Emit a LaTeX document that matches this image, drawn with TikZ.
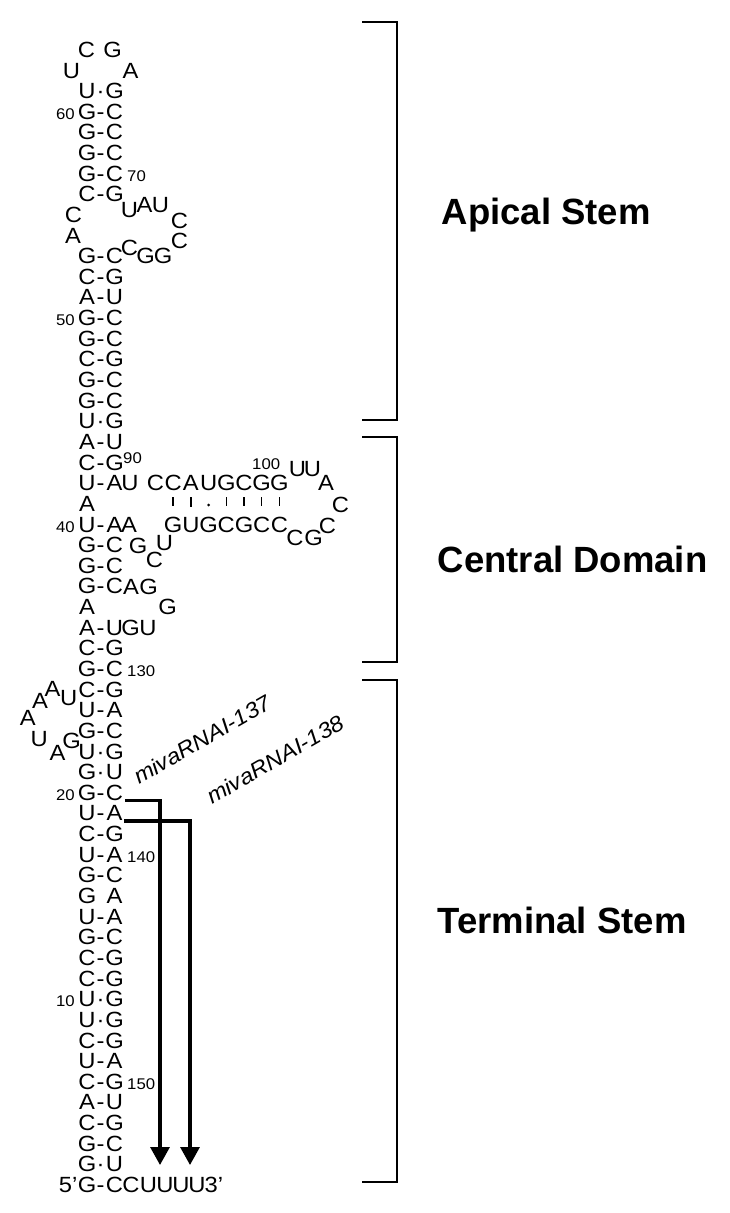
\documentclass[tikz,border=0pt]{standalone}
\usepackage{fontspec}
\setmainfont{Liberation Sans}
\newfontfamily\basefam{Liberation Sans}[FakeStretch=1.08]
\usetikzlibrary{arrows.meta}

\tikzset{
    nt/.style={font=\basefam\fontsize{22}{22}\selectfont, inner sep=0pt, anchor=base},
    num/.style={font=\basefam\fontsize{15.5}{15.5}\selectfont, inner sep=0pt},
    domainlbl/.style={font=\bfseries\fontsize{36.5}{36.5}\selectfont, inner sep=0pt, anchor=base west},
    mir/.style={font=\basefam\itshape\fontsize{22}{22}\selectfont, inner sep=0pt, anchor=base west, rotate=30},
    brk/.style={line width=1.8pt},
    pairbar/.style={line width=1.5pt},
    cut/.style={line width=3.2pt, -{Triangle[width=19pt,length=18pt]}}
}

\begin{document}
\begin{tikzpicture}[x=1pt, y=-1pt]
    \useasboundingbox (0,0) rectangle (729,1213);

% The stem: one row of paired bases every 20.64 units, numbered from the top loop down to the 5' end.

    \foreach \r/\a/\s/\b in {2/U/·/G, 3/G/-/C, 4/G/-/C, 5/G/-/C, 6/G/-/C, 7/C/-/G, 10/G/-/C, 11/C/-/G, 12/A/-/U, 13/G/-/C, 14/G/-/C, 15/C/-/G, 16/G/-/C, 17/G/-/C, 18/U/·/G, 19/A/-/U, 20/C/-/G, 21/U/-/A, 23/U/-/A, 24/G/-/C, 25/G/-/C, 26/G/-/C, 28/A/-/U, 29/C/-/G, 30/G/-/C, 31/C/-/G, 32/U/-/A, 33/G/-/C, 34/U/·/G, 35/G/·/U, 36/G/-/C, 37/U/-/A, 38/C/-/G, 39/U/-/A, 40/G/-/C, 41/G/{}/A, 42/U/-/A, 43/G/-/C, 44/C/-/G, 45/C/-/G, 46/U/·/G, 47/U/·/G, 48/C/-/G, 49/U/-/A, 50/C/-/G, 51/A/-/U, 52/C/-/G, 53/G/-/C, 54/G/·/U, 55/G/-/C} {
        \node[nt] (l\r) at (87,{57.3+20.64*\r}) {\a};
        \node[nt] (b\r) at (100.5,{57.3+20.64*\r}) {\s};
        \node[nt] (r\r) at (114.5,{57.3+20.64*\r}) {\b};
    }
    \node[nt] (l22) at (87,{57.3+20.64*22}) {A};
    \node[nt] (l27) at (87,{57.3+20.64*27}) {A};

    % numbers
    \foreach \n/\r in {60/3, 50/13, 40/23, 20/36, 10/46}
        \node[num, anchor=base east] (n\n) at (75,{57.3+20.64*\r}) {\n};
    \foreach \n/\r in {70/6, 130/30, 140/39, 150/50}
        \node[num, anchor=base west] (n\n) at (127,{57.3+20.64*\r}) {\n};
    \node[num, anchor=base west] (n90) at (123,463) {90};
    \node[num, anchor=base west] (n100) at (252,469) {100};

    % apical stem loops
    \foreach \x/\y/\t [count=\i] in {71.5/78/U, 86.5/57.3/C, 112.5/57.3/G, 130.5/78/A}
        \node[nt] (tl\i) at (\x,\y) {\t};
    \foreach \x/\y/\t [count=\i] in {129.5/217/U, 144.5/212/A, 160.5/212/U, 179.5/228/C, 179.5/248/C, 163/263.7/G, 145.5/263.7/G, 129.5/255/C}
        \node[nt] (al\i) at (\x,\y) {\t};
    \node[nt] (ac) at (73.5,222.4) {C};
    \node[nt] (aa) at (73,243) {A};

    % central domain
    \node[nt] (cu) at (130,490.7) {U};
    \node[nt] (ca) at (129,532) {A};
    \foreach \t [count=\i] in {C,C,A,U,G,C,G,G}
        \node[nt] (t\i) at ({155.5+17.7*(\i-1)},490.7) {\t};
    \foreach \t [count=\i] in {G,U,G,C,G,C,C}
        \node[nt] (g\i) at ({155.5+17.7*\i},532) {\t};
    \foreach \x/\y/\t [count=\i] in {297.5/476/U, 312.5/476/U, 326/490.7/A, 340.5/512/C, 327.5/533/C, 313.5/545/G, 295/545/C}
        \node[nt] (hp\i) at (\x,\y) {\t};
    \foreach \x/\y/\t [count=\i] in {164.5/550/U, 154.5/567/C, 138/553/G, 131/594/A, 148.5/594/G, 167.5/614.6/G, 148/635/U, 130.5/635/G}
        \node[nt] (bl\i) at (\x,\y) {\t};
    \foreach \k in {1,2,4,5,6,7} {
        \pgfmathtruncatemacro\j{\k+1}
        \draw[pairbar] ([yshift=-6.3pt]t\j.base) -- ([yshift=10pt]g\k.north);
    }
    \fill ([yshift=-14.3pt]t4.base) circle (1.5pt);

    % terminal stem loop and 3' tail
    \foreach \x/\y/\t [count=\i] in {68.8/705/U, 52.5/696.7/A, 40/708.3/A, 27.8/725/A, 39.2/746.7/U, 57.5/760/A, 71.7/748.3/G}
        \node[nt] (ll\i) at (\x,\y) {\t};
    \foreach \x/\t [count=\i] in {131/C, 148.5/U, 165/U, 181/U, 197/U}
        \node[nt] (tail\i) at (\x,{57.3+20.64*55}) {\t};
    \node[nt, anchor=base east] (five) at (77.5,{57.3+20.64*55}) {5’};
    \node[nt, anchor=base west] (three) at (204.5,{57.3+20.64*55}) {3’};

    % cleavage sites
    \coordinate (tip137) at (160,1165);
    \coordinate (tip138) at (190,1165);
    \draw[cut] ([xshift=1.5pt]r36.base east) -| (tip137);
    \draw[cut] ([xshift=1.5pt]r37.base east) -| (tip138);
    \node[mir] (m137) at (139,785) {mivaRNAI-137};
    \node[mir] (m138) at (212,805) {mivaRNAI-138};

    % domains
    \draw[brk] (362,22) -| (397.3,420) -- (362,420);
    \draw[brk] (362,437) -| (397.3,662) -- (362,662);
    \draw[brk] (362,680) -| (397.3,1182) -- (362,1182);
    \node[domainlbl] (apical) at (441.5,224) {Apical Stem};
    \node[domainlbl] (central) at (437.5,572) {Central Domain};
    \node[domainlbl] (terminal) at (437.5,933) {Terminal Stem};
\end{tikzpicture}
\end{document}
